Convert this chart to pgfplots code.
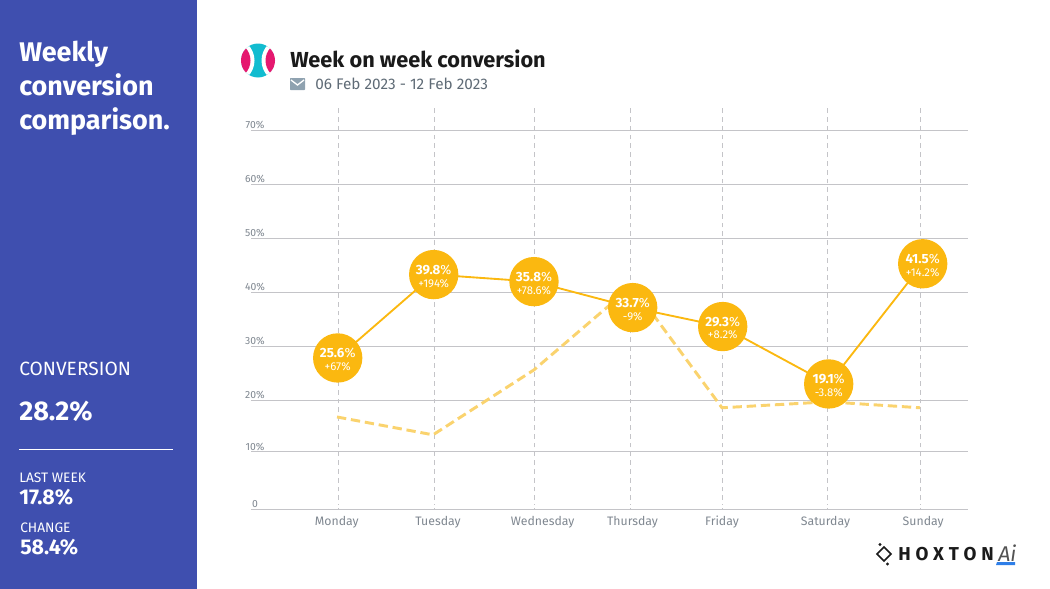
\documentclass[border=0pt]{standalone}
\usepackage{pgfplots}
\pgfplotsset{compat=1.18}
\usepackage{fontspec}
\setmainfont{Fira Sans}
\definecolor{panel}{HTML}{3F4FAF}
\definecolor{sun}{HTML}{FBB810}
\definecolor{paleSun}{HTML}{FAD36E}
\definecolor{gridc}{HTML}{C4C4C8}
\definecolor{txt}{HTML}{7F8790}
\definecolor{subt}{HTML}{5F6B76}
\definecolor{teal}{HTML}{12BCD0}
\definecolor{pink}{HTML}{E5186F}
\definecolor{mailc}{HTML}{8FA2B0}
\definecolor{ink}{HTML}{1A1A1A}
\definecolor{aiblue}{HTML}{2F7FE8}
% label inside a circle: value, then change
\newcommand{\lab}[2]{{\fontsize{10}{10.5}\selectfont\textbf{#1}\%}\\[-2.6pt]{\fontsize{8.5}{8.5}\selectfont #2\%}}
% tick label nudged by dx, dy
\newcommand{\tl}[3]{\raisebox{#2}{\makebox[0pt]{\hspace*{#1}#3}}}
\begin{document}
\begin{tikzpicture}[x=0.75pt,y=-0.75pt]
\path[use as bounding box] (0,0) rectangle (1050,589);
\fill[panel] (0,0) rectangle (197,589);
% sidebar text
\node[anchor=west,text=white,font=\fontsize{20.2}{25.5}\selectfont\bfseries,align=left,inner sep=0pt] at (19,88) {Weekly\\conversion\\comparison.};
\node[anchor=west,text=white,font=\fontsize{14.4}{15}\selectfont,inner sep=0pt] at (19,369) {CONVERSION};
\node[anchor=west,text=white,font=\fontsize{20.3}{21}\selectfont\bfseries,inner sep=0pt] at (19,411) {28.2\%};
\draw[white,line width=0.8pt] (19,449.5) -- (173,449.5);
\node[anchor=west,text=white,font=\fontsize{10.3}{11}\selectfont,inner sep=0pt] at (19,478) {LAST WEEK};
\node[anchor=west,text=white,font=\fontsize{16}{16}\selectfont\bfseries,inner sep=0pt] at (19,497) {17.8\%};
\node[anchor=west,text=white,font=\fontsize{10.3}{11}\selectfont,inner sep=0pt] at (20,528) {CHANGE};
\node[anchor=west,text=white,font=\fontsize{16}{16}\selectfont\bfseries,inner sep=0pt] at (20,547) {58.4\%};
% round logo
\begin{scope}
\clip (258,60.5) circle (17);
\fill[teal] (258,60.5) circle (17);
\fill[white] (232,60.5) circle (22.5);
\fill[white] (284,60.5) circle (22.5);
\fill[pink] (232,60.5) circle (18.5);
\fill[pink] (284,60.5) circle (18.5);
\end{scope}
% header
\node[anchor=west,text=ink,font=\fontsize{16.3}{18}\selectfont\bfseries,inner sep=0pt] at (290,59) {Week on week conversion};
\fill[mailc,rounded corners=0.5pt] (290,78) rectangle (305,90);
\draw[white,line width=1pt] (291,80) -- (297.5,85) -- (304,80);
\node[anchor=west,text=subt,font=\fontsize{11.5}{12}\selectfont,inner sep=0pt] at (315,84) {06 Feb 2023 - 12 Feb 2023};
% brand
\draw[ink,line width=1.3pt] (877,554) -- (884,547) -- (891,554) -- (884,561) -- cycle;
\fill[ink] (880,544.5) circle (1.6);
\fill[ink] (887.5,564) circle (1.6);
\node[anchor=west,text=ink,font=\fontsize{14}{16}\selectfont\bfseries,inner sep=0pt] at (898,554) {H\hspace{3.6pt}O\hspace{3.6pt}X\hspace{3.6pt}T\hspace{3.6pt}O\hspace{3.6pt}N};
\node[anchor=west,text=ink!75,font=\fontsize{16}{16}\selectfont\itshape,inner sep=0pt] at (998,553) {Ai};
\fill[aiblue] (997,562) -- (1015,562) -- (1015,565) -- (996,565) -- cycle;
\begin{axis}[
  at={(188.25pt,-381.75pt)},anchor=south west,
  scale only axis,width=537.75pt,height=300.75pt,
  xmin=251,xmax=968,ymin=0,ymax=74.07,
  axis x line*=bottom,axis y line*=left,
  y axis line style={draw=none},
  clip=false,
  xtick={338,434,534,630.5,722,827.5,920.5},
  xticklabels={\tl{-1.8pt}{0pt}{Monday},\tl{6pt}{0pt}{Tuesday},\tl{13pt}{-0.8pt}{Wednesday},\tl{3pt}{1.5pt}{Thursday},\tl{0pt}{1.5pt}{Friday},\tl{-3pt}{1.5pt}{Saturday},\tl{4pt}{-0.8pt}{Sunday}},
  x tick label style={font=\fontsize{9.2}{10}\selectfont,text=txt,yshift=-1.8pt},
  major tick length=0pt,
  axis line style={gridc,line width=0.7pt},
  xmajorgrids,ymajorgrids,
  x grid style={gridc,line width=0.55pt,dash pattern=on 3.6pt off 3pt},
  y grid style={gridc,line width=0.7pt},
  ytick={0,10.55,20,30,40,50,60,70},
  yticklabels={0,10\%,20\%,30\%,40\%,50\%,60\%,70\%},
  y tick label style={anchor=south,font=\fontsize{7.8}{9}\selectfont,text=txt,inner sep=0pt,xshift=3pt,yshift=0.9pt},
]
\addplot[paleSun,line width=2.2pt,dash pattern=on 7pt off 3.6pt] coordinates {
  (337,17.0)(433,13.7)(534,25.7)(632,41.2)(722,18.7)(828,19.8)(920,18.7)};
\addplot[sun,line width=1.4pt,mark=*,mark size=17.8pt,mark options={sun,solid},
  point meta=explicit symbolic,
  nodes near coords,
  every node near coord/.append style={anchor=center,align=center,text=white,inner sep=0pt,yshift=-1.2pt}]
  coordinates {
  (337.7,27.9) [\lab{25.6}{+67}]
  (433.7,43.3) [\lab{39.8}{+194}]
  (534,42.0) [\lab{35.8}{+78.6}]
  (632.7,37.2) [\lab{33.7}{-9}]
  (722.7,33.7) [\lab{29.3}{+8.2}]
  (828.7,23.1) [\lab{19.1}{-3.8}]
  (922.7,45.3) [\lab{41.5}{+14.2}]
};
% vertical dashes stop just short of the baseline
\fill[white] (axis cs:280,0.12) rectangle (axis cs:968,0.75);
\end{axis}
\end{tikzpicture}
\end{document}
